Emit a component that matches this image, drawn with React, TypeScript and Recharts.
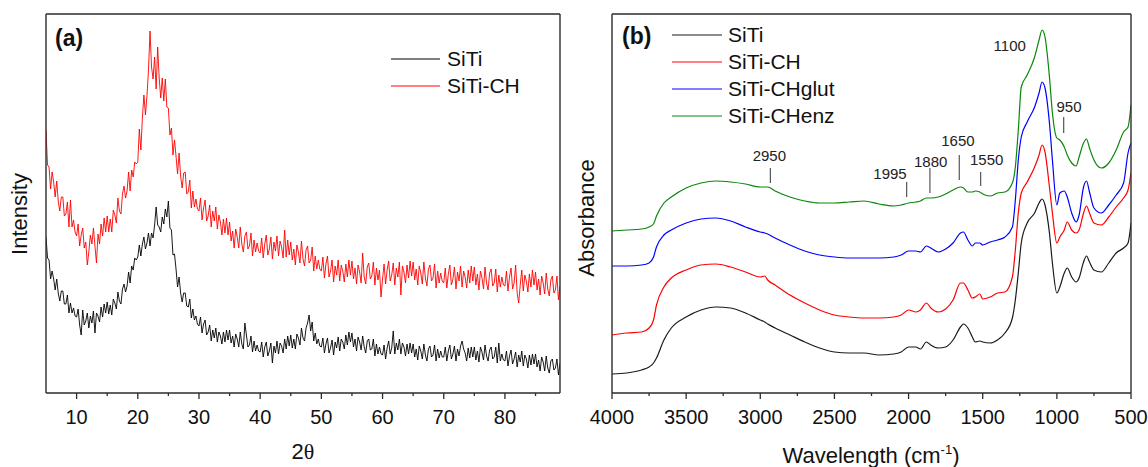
import React from 'react';
import { LineChart, Line, XAxis, YAxis, ReferenceLine, ReferenceDot, Legend } from 'recharts';

const FONT = '"Liberation Sans", Arial, Helvetica, sans-serif';
const FRAME = '#2b2b2b';

// ---- (a) XRD, 2θ sampled every 0.25° from 5 to 89 ----
const twoTheta = Array.from({ length: 337 }, (_, i) => 5 + i * 0.25);

// one row = 5°
const xrdSiTi = [
    156, 135, 133, 114, 122, 114, 103, 114, 100, 92, 102, 102, 89, 89, 98, 80, 90, 80, 85, 77,
    76, 84, 68, 58, 83, 68, 72, 80, 65, 77, 70, 82, 60, 80, 77, 71, 86, 76, 89, 80,
    91, 79, 88, 78, 94, 90, 84, 101, 92, 89, 104, 109, 101, 107, 121, 110, 127, 123, 135, 133,
    136, 148, 137, 149, 156, 144, 150, 160, 147, 160, 155, 168, 186, 168, 166, 161, 176, 169, 184, 176,
    192, 165, 163, 138, 139, 124, 106, 116, 100, 91, 100, 100, 87, 86, 94, 75, 84, 73, 77, 69,
    67, 76, 60, 69, 73, 58, 61, 68, 52, 63, 55, 65, 51, 61, 57, 49, 61, 51, 63, 53,
    63, 50, 57, 46, 59, 54, 46, 61, 49, 44, 70, 58, 46, 48, 57, 41, 52, 42, 48, 42,
    41, 51, 36, 46, 51, 37, 42, 50, 30, 47, 40, 52, 39, 50, 47, 40, 54, 44, 57, 47,
    58, 45, 54, 44, 59, 55, 48, 65, 55, 52, 65, 70, 78, 62, 71, 52, 60, 49, 54, 47,
    46, 55, 40, 49, 55, 40, 45, 53, 38, 51, 45, 56, 42, 54, 51, 44, 58, 48, 61, 51,
    60, 46, 54, 42, 56, 51, 43, 57, 46, 40, 52, 54, 43, 44, 54, 37, 49, 39, 46, 39,
    38, 48, 34, 45, 52, 39, 45, 62, 39, 50, 43, 54, 39, 50, 46, 37, 49, 39, 50, 40,
    49, 36, 44, 33, 47, 42, 34, 49, 38, 32, 44, 47, 36, 38, 48, 32, 44, 35, 42, 36,
    36, 46, 32, 42, 48, 34, 39, 47, 32, 44, 37, 47, 52, 44, 40, 32, 45, 35, 46, 36,
    46, 33, 42, 31, 46, 41, 33, 48, 37, 32, 43, 46, 34, 36, 46, 30, 50, 32, 39, 33,
    32, 42, 27, 37, 43, 29, 34, 41, 26, 38, 31, 42, 27, 38, 34, 25, 38, 28, 39, 29,
    39, 26, 33, 22, 36, 31, 22, 37, 25, 20, 32, 34, 23, 25, 34, 18, 30
];

const xrdSiTiCH = [
    263, 228, 226, 204, 221, 211, 196, 212, 192, 182, 196, 196, 177, 179, 191, 166, 193, 166, 173, 161,
    157, 169, 147, 158, 165, 145, 151, 128, 141, 158, 149, 165, 147, 130, 159, 149, 169, 157, 175, 161,
    177, 161, 174, 161, 183, 178, 170, 195, 182, 179, 199, 207, 195, 202, 221, 202, 223, 216, 231, 229,
    231, 264, 243, 275, 298, 278, 297, 323, 362, 326, 314, 336, 304, 346, 315, 295, 315, 292, 314, 286,
    285, 258, 265, 238, 253, 237, 219, 240, 217, 205, 220, 221, 199, 201, 213, 185, 202, 186, 194, 184,
    182, 195, 173, 185, 193, 172, 177, 188, 166, 182, 172, 186, 164, 178, 171, 158, 174, 160, 175, 158,
    171, 152, 162, 145, 164, 156, 145, 166, 149, 141, 157, 161, 144, 147, 160, 137, 153, 141, 150, 142,
    140, 155, 135, 149, 158, 138, 144, 156, 134, 151, 142, 157, 137, 152, 146, 135, 163, 136, 153, 138,
    151, 133, 144, 128, 148, 141, 130, 152, 134, 127, 143, 147, 130, 133, 146, 122, 137, 124, 133, 124,
    122, 136, 115, 129, 137, 116, 122, 133, 111, 127, 118, 133, 112, 128, 122, 111, 129, 116, 133, 118,
    132, 114, 125, 109, 128, 121, 110, 140, 116, 109, 126, 130, 114, 117, 131, 108, 125, 113, 123, 96,
    114, 129, 109, 123, 132, 112, 118, 130, 108, 125, 116, 131, 98, 127, 121, 110, 128, 115, 132, 117,
    131, 113, 124, 108, 127, 120, 109, 131, 115, 107, 124, 128, 112, 115, 129, 105, 122, 110, 120, 112,
    110, 125, 105, 119, 128, 108, 114, 126, 104, 121, 112, 127, 106, 122, 116, 105, 123, 110, 127, 112,
    126, 108, 119, 103, 122, 115, 104, 126, 110, 103, 120, 124, 107, 110, 124, 101, 118, 106, 116, 108,
    107, 122, 102, 116, 125, 104, 110, 128, 100, 90, 108, 123, 102, 118, 112, 101, 119, 106, 123, 108,
    121, 103, 114, 98, 117, 110, 99, 120, 104, 97, 113, 117, 100, 103, 117, 93, 107
];

const xrdTicks = [10, 15, 20, 25, 30, 35, 40, 45, 50, 55, 60, 65, 70, 75, 80, 85];
const xrdMajor = [10, 20, 30, 40, 50, 60, 70, 80];

// ---- (b) FTIR ----
const wavenumber = [
    4000, 3900, 3800, 3750, 3720, 3700, 3650, 3600, 3500, 3400,
    3300, 3200, 3100, 3000, 2970, 2950, 2900, 2800, 2700, 2600,
    2500, 2400, 2300, 2200, 2100, 2050, 2000, 1950, 1920, 1880,
    1850, 1800, 1750, 1700, 1650, 1630, 1600, 1570, 1550, 1520,
    1500, 1450, 1400, 1350, 1300, 1280, 1260, 1240, 1200, 1150,
    1120, 1100, 1080, 1050, 1030, 1000, 980, 950, 930, 900,
    870, 850, 820, 800, 780, 750, 700, 650, 600, 550,
    520, 500
];

const ftirSiTi = [
    19, 20, 23, 26, 30, 35, 53, 65, 76, 83,
    86, 85, 80, 73, 71, 69, 65, 58, 51, 45,
    41, 40, 40, 38, 39, 41, 46, 46, 44, 51,
    48, 45, 46, 53, 66, 69, 65, 56, 51, 52,
    51, 50, 53, 60, 75, 93, 120, 150, 170, 180,
    190, 194, 188, 160, 130, 100, 106, 120, 125, 116,
    111, 115, 131, 137, 131, 123, 121, 130, 140, 145,
    150, 170
];
const ftirSiTiCH = [
    58, 60, 61, 65, 73, 88, 106, 115, 123, 128,
    129, 126, 121, 116, 117, 113, 108, 98, 90, 83,
    78, 76, 75, 75, 76, 78, 83, 81, 83, 90,
    85, 81, 84, 93, 110, 110, 103, 95, 96, 99,
    94, 96, 100, 101, 116, 143, 180, 200, 211, 226,
    238, 248, 241, 206, 180, 150, 156, 163, 171, 163,
    160, 163, 180, 187, 180, 170, 168, 176, 186, 195,
    203, 220
];
const ftirSiTiCHglut = [
    127, 127, 128, 130, 136, 146, 158, 163, 170, 174,
    175, 172, 166, 161, 160, 159, 155, 148, 142, 138,
    136, 135, 135, 135, 136, 138, 142, 142, 141, 147,
    145, 141, 144, 150, 160, 161, 153, 147, 150, 150,
    148, 151, 153, 156, 166, 193, 233, 256, 271, 286,
    300, 311, 305, 270, 233, 188, 200, 202, 196, 180,
    171, 178, 206, 212, 201, 185, 180, 188, 198, 210,
    240, 250
];
const ftirSiTiCHenz = [
    162, 163, 164, 166, 169, 177, 190, 196, 205, 210,
    212, 211, 209, 206, 206, 206, 202, 196, 192, 190,
    190, 191, 192, 189, 187, 188, 190, 191, 192, 195,
    195, 196, 199, 203, 206, 205, 201, 201, 202, 201,
    199, 197, 200, 201, 210, 226, 263, 306, 318, 336,
    353, 363, 356, 316, 280, 255, 253, 246, 238, 230,
    227, 236, 250, 254, 245, 233, 225, 230, 243, 261,
    266, 288
];

const ftirTicks = [4000, 3750, 3500, 3250, 3000, 2750, 2500, 2250, 2000, 1750, 1500, 1250, 1000, 750, 500];
const ftirMajor = [4000, 3500, 3000, 2500, 2000, 1500, 1000, 500];

// peak marks: label anchor (tx, ty) and marker line (lx, from y1 to y2)
const peakMarks = [
    { text: '2950', tx: 2939, ty: 237, lx: 2932, y1: 225, y2: 210 },
    { text: '1995', tx: 2125, ty: 219, lx: 2013, y1: 211, y2: 196 },
    { text: '1880', tx: 1851, ty: 231, lx: 1856, y1: 225, y2: 200 },
    { text: '1650', tx: 1667, ty: 252, lx: 1658, y1: 238, y2: 213 },
    { text: '1550', tx: 1473, ty: 233, lx: 1514, y1: 221, y2: 207 },
    { text: '1100', tx: 1318, ty: 347 },
    { text: '950', tx: 918, ty: 286, lx: 954, y1: 276, y2: 260 }
];

const xrdSeries = [
    { key: 'siti', name: 'SiTi', color: '#000000' },
    { key: 'sitiCh', name: 'SiTi-CH', color: '#ff0000' }
];
const ftirSeries = [
    { key: 'siti', name: 'SiTi', color: '#1a1a1a' },
    { key: 'sitiCh', name: 'SiTi-CH', color: '#ff0000' },
    { key: 'sitiGlut', name: 'SiTi-CHglut', color: '#0000ff' },
    { key: 'sitiEnz', name: 'SiTi-CHenz', color: '#0a870a' }
];

const xrdData = twoTheta.map((t, i) => ({ t, siti: xrdSiTi[i], sitiCh: xrdSiTiCH[i] }));
const ftirData = wavenumber.map((w, i) => ({
    w,
    siti: ftirSiTi[i],
    sitiCh: ftirSiTiCH[i],
    sitiGlut: ftirSiTiCHglut[i],
    sitiEnz: ftirSiTiCHenz[i]
}));

function AxisTick(props: any) {
    const { x, y, payload, majors } = props;
    const major = majors.includes(payload.value);
    return (
        <g>
            <line x1={x} x2={x} y1={y} y2={y + (major ? 6 : 3)} stroke={FRAME} strokeWidth={1.3} />
            {major && (
                <text x={x} y={y + 31} textAnchor="middle" fontSize={20} fontFamily={FONT} fill="#111">
                    {payload.value}
                </text>
            )}
        </g>
    );
}

function SeriesLegend({ items, lineWidth, gap }: { items: { name: string; color: string }[]; lineWidth: number; gap: number }) {
    return (
        <div style={{ fontFamily: FONT, fontSize: 21, color: '#111' }}>
            {items.map((it) => (
                <div key={it.name} style={{ display: 'flex', alignItems: 'center', height: 27 }}>
                    <svg width={lineWidth} height={4} style={{ display: 'block' }}>
                        <line x1={0} x2={lineWidth} y1={2} y2={2} stroke={it.color} strokeWidth={1.2} />
                    </svg>
                    <span style={{ marginLeft: gap, lineHeight: '27px', whiteSpace: 'nowrap' }}>{it.name}</span>
                </div>
            ))}
        </div>
    );
}

const textBase: React.CSSProperties = {
    position: 'absolute',
    fontFamily: FONT,
    color: '#111',
    whiteSpace: 'nowrap',
    lineHeight: 1
};

export default function App() {
    return (
        <div style={{ position: 'absolute', left: 0, top: 0, width: 1148, height: 467, background: '#fff', overflow: 'hidden' }}>
            {/* panel (a) */}
            <div style={{ position: 'absolute', left: 0, top: 0 }}>
                <LineChart width={570} height={467} data={xrdData} margin={{ top: 14, right: 10, bottom: 44, left: 46 }}>
                    <XAxis
                        dataKey="t"
                        type="number"
                        domain={[5, 89]}
                        allowDataOverflow
                        ticks={xrdTicks}
                        interval={0}
                        axisLine={false}
                        tickLine={false}
                        tickSize={0}
                        tickMargin={0}
                        height={30}
                        tick={(p: any) => <AxisTick {...p} majors={xrdMajor} />}
                    />
                    <YAxis type="number" domain={[0, 379]} allowDataOverflow hide />
                    {xrdSeries.map((s) => (
                        <Line
                            key={s.key}
                            dataKey={s.key}
                            type="linear"
                            stroke={s.color}
                            strokeWidth={0.9}
                            dot={false}
                            isAnimationActive={false}
                        />
                    ))}
                    <ReferenceLine x={5} stroke={FRAME} strokeWidth={1.4} />
                    <ReferenceLine x={89} stroke={FRAME} strokeWidth={1.4} />
                    <ReferenceLine y={0} stroke={FRAME} strokeWidth={1.4} />
                    <ReferenceLine y={379} stroke={FRAME} strokeWidth={1.4} />
                    <Legend
                        layout="horizontal"
                        align="center"
                        verticalAlign="middle"
                        wrapperStyle={{ left: 391, top: 45, width: 'auto' }}
                        content={() => <SeriesLegend items={xrdSeries} lineWidth={49} gap={7} />}
                    />
                </LineChart>
            </div>

            {/* panel (b) */}
            <div style={{ position: 'absolute', left: 570, top: 0 }}>
                <LineChart width={578} height={467} data={ftirData} margin={{ top: 14, right: 17, bottom: 44, left: 42 }}>
                    <XAxis
                        dataKey="w"
                        type="number"
                        domain={[500, 4000]}
                        reversed
                        allowDataOverflow
                        ticks={ftirTicks}
                        interval={0}
                        axisLine={false}
                        tickLine={false}
                        tickSize={0}
                        tickMargin={0}
                        height={30}
                        tick={(p: any) => <AxisTick {...p} majors={ftirMajor} />}
                    />
                    <YAxis type="number" domain={[0, 379]} allowDataOverflow hide />
                    {ftirSeries.map((s) => (
                        <Line
                            key={s.key}
                            dataKey={s.key}
                            type="monotone"
                            stroke={s.color}
                            strokeWidth={1.2}
                            dot={false}
                            isAnimationActive={false}
                        />
                    ))}
                    {peakMarks
                        .filter((m) => m.lx !== undefined)
                        .map((m) => (
                            <ReferenceLine
                                key={`l-${m.text}`}
                                segment={[{ x: m.lx, y: m.y1 }, { x: m.lx, y: m.y2 }]}
                                stroke="#555"
                                strokeWidth={1.2}
                            />
                        ))}
                    {peakMarks.map((m) => (
                        <ReferenceDot
                            key={`t-${m.text}`}
                            x={m.tx}
                            y={m.ty}
                            r={0}
                            fill="none"
                            stroke="none"
                            ifOverflow="visible"
                            label={{ value: m.text, position: 'center', fontSize: 15, fill: '#222', fontFamily: FONT }}
                        />
                    ))}
                    <ReferenceLine x={4000} stroke={FRAME} strokeWidth={1.4} />
                    <ReferenceLine x={500} stroke={FRAME} strokeWidth={1.4} />
                    <ReferenceLine y={0} stroke={FRAME} strokeWidth={1.4} />
                    <ReferenceLine y={379} stroke={FRAME} strokeWidth={1.4} />
                    <Legend
                        layout="horizontal"
                        align="center"
                        verticalAlign="middle"
                        wrapperStyle={{ left: 102, top: 21, width: 'auto' }}
                        content={() => <SeriesLegend items={ftirSeries} lineWidth={50} gap={6} />}
                    />
                </LineChart>
            </div>

            {/* panel letters and axis titles */}
            <div style={{ ...textBase, left: 55, top: 27, fontSize: 23, fontWeight: 'bold' }}>(a)</div>
            <div style={{ ...textBase, left: 622, top: 25, fontSize: 23, fontWeight: 'bold' }}>(b)</div>
            <div style={{ ...textBase, left: 20, top: 214, fontSize: 22, transform: 'translate(-50%, -50%) rotate(-90deg)' }}>
                Intensity
            </div>
            <div style={{ ...textBase, left: 587, top: 218, fontSize: 22, transform: 'translate(-50%, -50%) rotate(-90deg)' }}>
                Absorbance
            </div>
            <div style={{ ...textBase, left: 303, top: 452, fontSize: 22, transform: 'translate(-50%, -50%)' }}>
                2<span style={{ fontFamily: '"Liberation Serif", "Times New Roman", serif' }}>θ</span>
            </div>
            <div style={{ ...textBase, left: 871, top: 456, fontSize: 22, transform: 'translate(-50%, -50%)' }}>
                Wavelength (cm
                <span style={{ fontSize: 13, position: 'relative', top: -9, lineHeight: 0 }}>-1</span>)
            </div>
        </div>
    );
}
